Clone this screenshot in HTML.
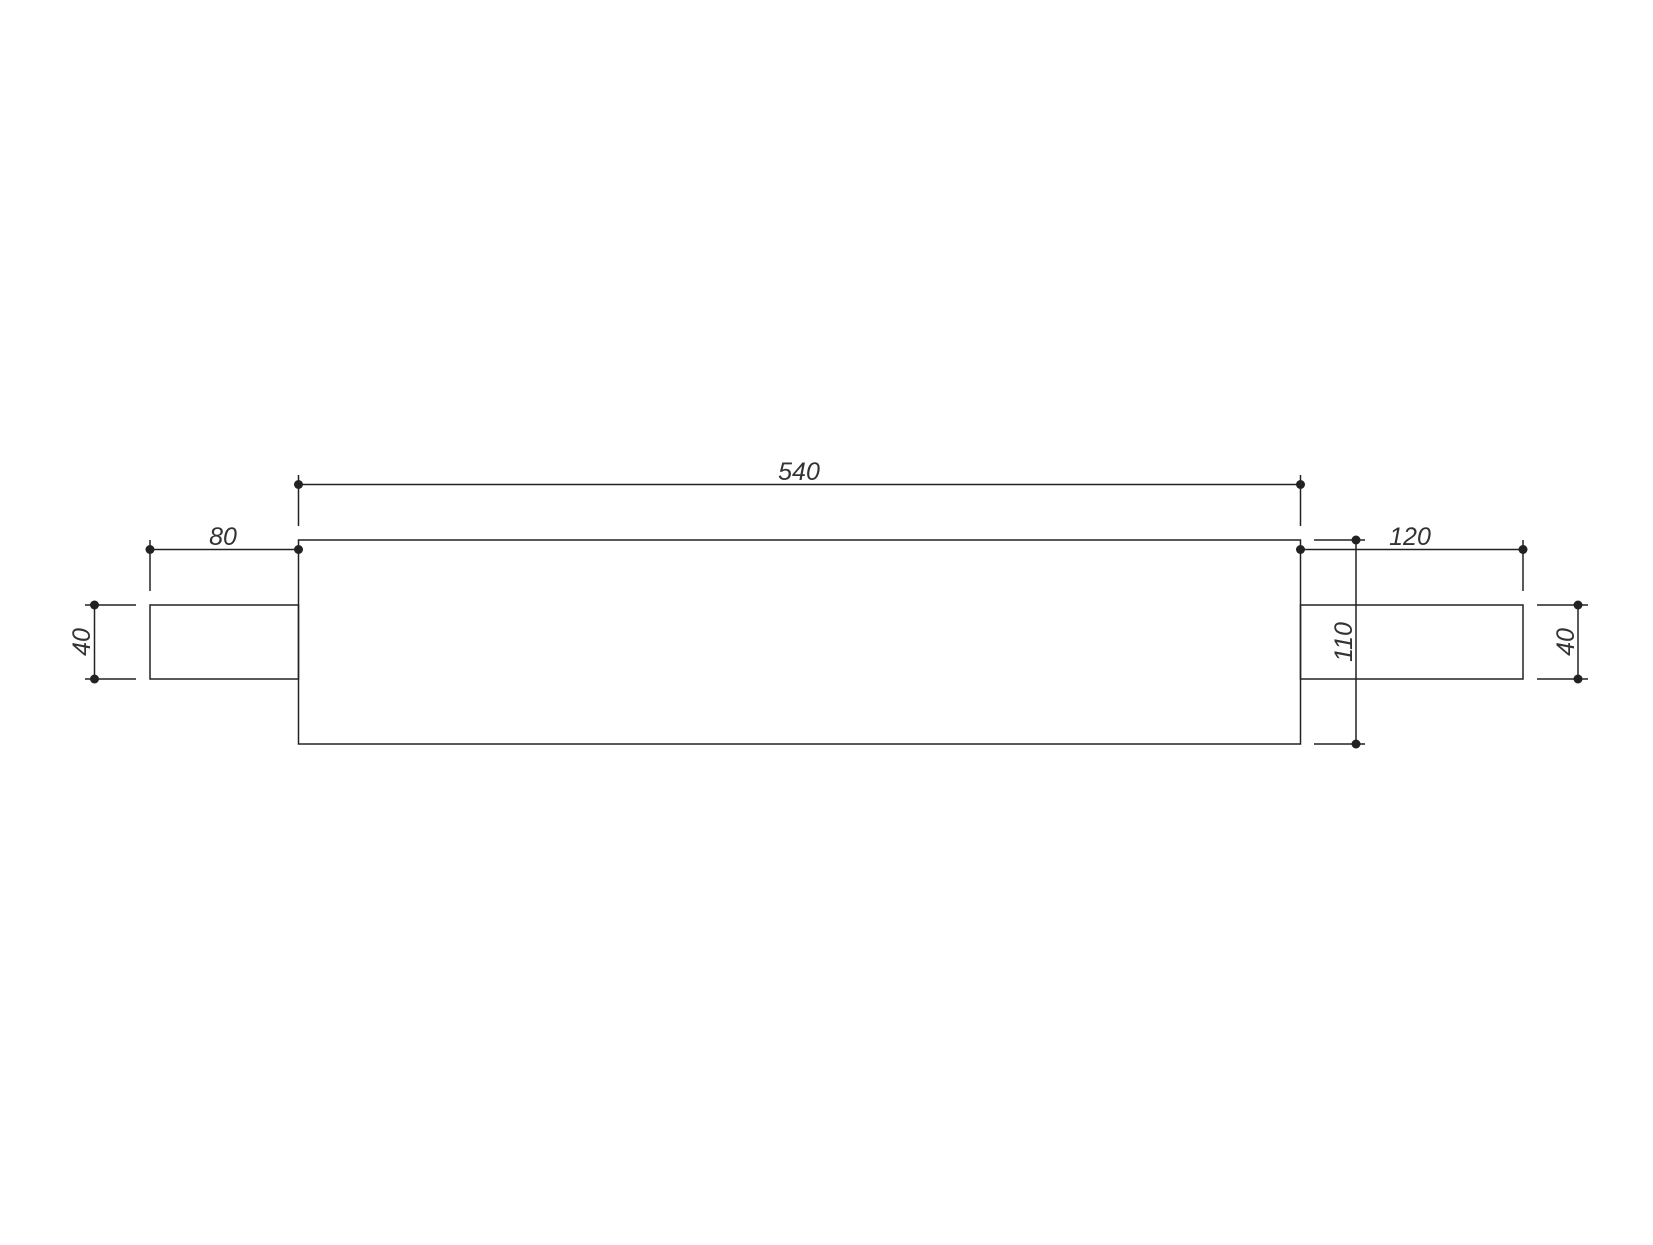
<!DOCTYPE html>
<html><head><style>body{margin:0;background:#fff}</style></head><body>
<svg width="1653" height="1240" viewBox="0 0 1653 1240" xmlns="http://www.w3.org/2000/svg">
<g stroke="#222" stroke-width="1.5" fill="none">
<rect x="298.5" y="540" width="1002" height="204"/>
<rect x="150" y="605" width="148.5" height="74"/>
<rect x="1300.5" y="605" width="222.5" height="74"/>
<!-- 540 -->
<line x1="298.5" y1="484.5" x2="1300.5" y2="484.5"/>
<line x1="298.5" y1="475" x2="298.5" y2="526"/>
<line x1="1300.5" y1="475" x2="1300.5" y2="526"/>
<!-- 80 -->
<line x1="150" y1="549.5" x2="298.5" y2="549.5"/>
<line x1="150" y1="540" x2="150" y2="591"/>
<!-- 120 -->
<line x1="1300.5" y1="549.5" x2="1523" y2="549.5"/>
<line x1="1523" y1="540" x2="1523" y2="591"/>
<!-- 110 -->
<line x1="1356" y1="540" x2="1356" y2="744"/>
<line x1="1314" y1="540" x2="1365" y2="540"/>
<line x1="1314" y1="744" x2="1365" y2="744"/>
<!-- left 40 -->
<line x1="94.5" y1="605" x2="94.5" y2="679"/>
<line x1="85" y1="605" x2="136" y2="605"/>
<line x1="85" y1="679" x2="136" y2="679"/>
<!-- right 40 -->
<line x1="1578" y1="605" x2="1578" y2="679"/>
<line x1="1537" y1="605" x2="1588" y2="605"/>
<line x1="1537" y1="679" x2="1588" y2="679"/>
</g>
<g fill="#222">
<circle cx="298.5" cy="484.5" r="4.5"/><circle cx="1300.5" cy="484.5" r="4.5"/>
<circle cx="150" cy="549.5" r="4.5"/><circle cx="298.5" cy="549.5" r="4.5"/>
<circle cx="1300.5" cy="549.5" r="4.5"/><circle cx="1523" cy="549.5" r="4.5"/>
<circle cx="1356" cy="540" r="4.5"/><circle cx="1356" cy="744" r="4.5"/>
<circle cx="94.5" cy="605" r="4.5"/><circle cx="94.5" cy="679" r="4.5"/>
<circle cx="1578" cy="605" r="4.5"/><circle cx="1578" cy="679" r="4.5"/>
</g>
<g font-family="Liberation Sans, sans-serif" font-style="italic" font-size="25" fill="#333" text-anchor="middle">
<text x="799" y="480">540</text>
<text x="223" y="545">80</text>
<text x="1410" y="545">120</text>
<text transform="translate(1352,642) rotate(-90)">110</text>
<text transform="translate(90,642) rotate(-90)">40</text>
<text transform="translate(1574,642) rotate(-90)">40</text>
</g>
</svg>
</body></html>
